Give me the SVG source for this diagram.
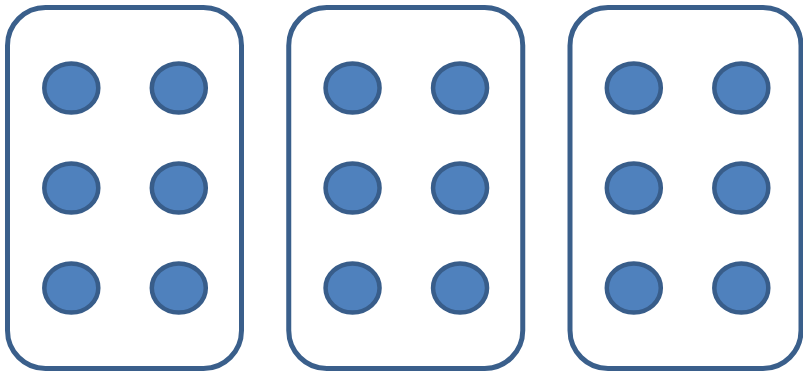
<svg xmlns="http://www.w3.org/2000/svg" width="803" height="373" viewBox="0 0 803 373">
<style>
.card{fill:#FFFFFF;stroke:#3A5F8B;stroke-width:5}
.dot{fill:#4F81BD;stroke:#385D8A;stroke-width:4.5}
</style>
<rect width="803" height="373" fill="#FFFFFF"/>
<g id="card1">
<rect class="card" x="7.5" y="7.5" width="234" height="361" rx="38" ry="38"/>
<ellipse class="dot" cx="71.3" cy="88" rx="27" ry="24.5"/>
<ellipse class="dot" cx="178.8" cy="88" rx="27" ry="24.5"/>
<ellipse class="dot" cx="71.3" cy="188" rx="27" ry="24.5"/>
<ellipse class="dot" cx="178.8" cy="188" rx="27" ry="24.5"/>
<ellipse class="dot" cx="71.3" cy="288" rx="27" ry="24.5"/>
<ellipse class="dot" cx="178.8" cy="288" rx="27" ry="24.5"/>
</g>
<g id="card2">
<rect class="card" x="288.75" y="7.5" width="234" height="361" rx="38" ry="38"/>
<ellipse class="dot" cx="352.55" cy="88" rx="27" ry="24.5"/>
<ellipse class="dot" cx="460.05" cy="88" rx="27" ry="24.5"/>
<ellipse class="dot" cx="352.55" cy="188" rx="27" ry="24.5"/>
<ellipse class="dot" cx="460.05" cy="188" rx="27" ry="24.5"/>
<ellipse class="dot" cx="352.55" cy="288" rx="27" ry="24.5"/>
<ellipse class="dot" cx="460.05" cy="288" rx="27" ry="24.5"/>
</g>
<g id="card3">
<rect class="card" x="570" y="7.5" width="231" height="361" rx="38" ry="38"/>
<ellipse class="dot" cx="633.8" cy="88" rx="27" ry="24.5"/>
<ellipse class="dot" cx="741.3" cy="88" rx="27" ry="24.5"/>
<ellipse class="dot" cx="633.8" cy="188" rx="27" ry="24.5"/>
<ellipse class="dot" cx="741.3" cy="188" rx="27" ry="24.5"/>
<ellipse class="dot" cx="633.8" cy="288" rx="27" ry="24.5"/>
<ellipse class="dot" cx="741.3" cy="288" rx="27" ry="24.5"/>
</g>
<g id="connectors"/>
</svg>
